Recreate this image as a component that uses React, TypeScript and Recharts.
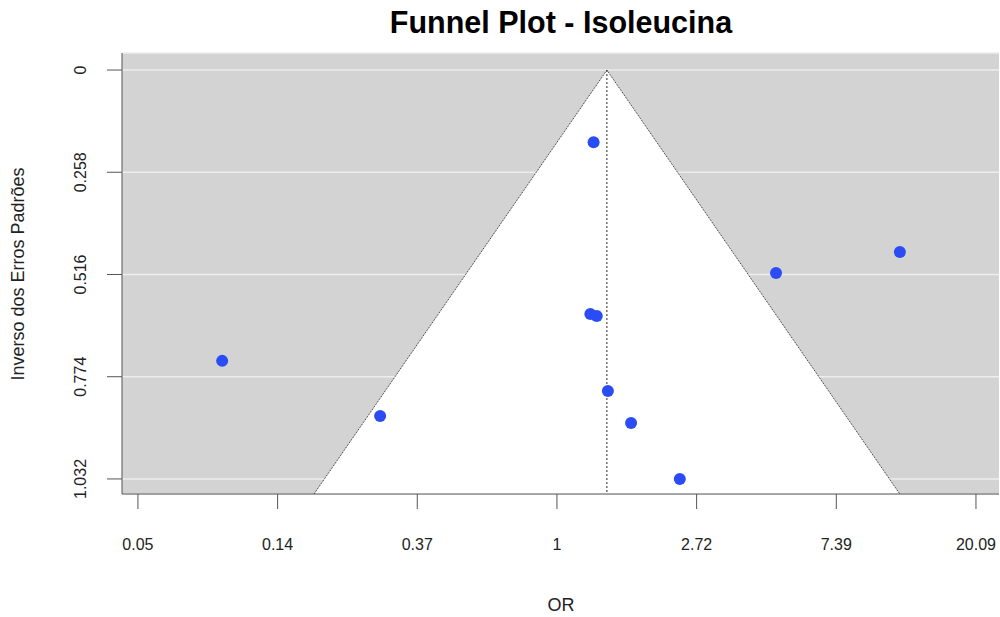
import React from 'react';
import {
  ComposedChart,
  XAxis,
  YAxis,
  CartesianGrid,
  Area,
  Scatter,
  ReferenceLine,
} from 'recharts';

const studyOR = [1.3, 11.65, 4.8, 1.27, 1.33, 0.091, 1.44, 0.282, 1.7, 2.41];
const studySE = [0.182, 0.459, 0.512, 0.616, 0.621, 0.734, 0.81, 0.873, 0.891, 1.032];
const pooledOR = 1.43;

const xTickLogs = [-3, -2, -1, 0, 1, 2, 3];
const xTickLabels = ['0.05', '0.14', '0.37', '1', '2.72', '7.39', '20.09'];
const yTicks = [0, 0.258, 0.516, 0.774, 1.032];

const xDomain = [-3.114, 3.165];
const yDomain = [-0.043, 1.07];

const font = '"Liberation Sans", Arial, sans-serif';

const center = Math.log(pooledOR);
const yMax = yDomain[1];
const leftBase = center - 1.96 * yMax;
const rightBase = center + 1.96 * yMax;

const funnelArea = [
  { x: leftBase, band: [yMax, yMax] },
  { x: center, band: [0, yMax] },
  { x: rightBase, band: [yMax, yMax] },
];

const funnelEdges = [
  { x: leftBase, y: yMax },
  { x: center, y: 0 },
  { x: rightBase, y: yMax },
];

const studies = studyOR.map((or, i) => ({ x: Math.log(or), y: studySE[i] }));

const YTick = ({ x, y, payload }: any) => (
  <text
    x={x}
    y={y}
    transform={`rotate(-90 ${x} ${y})`}
    textAnchor="middle"
    dy="0.35em"
    fontSize={16}
    fontFamily={font}
    fill="#222"
  >
    {String(payload.value)}
  </text>
);

const Dot = ({ cx, cy }: any) => <circle cx={cx} cy={cy} r={6} fill="#2b4cf5" />;
const NoDot = () => <g />;

export default function App() {
  return (
    <div style={{ position: 'absolute', left: 0, top: 0, width: 1000, height: 617 }}>
      <ComposedChart
        width={1000}
        height={617}
        data={funnelArea}
        margin={{ top: 53, right: 1, bottom: 0, left: 0 }}
      >
        <CartesianGrid
          vertical={false}
          fill="#d3d3d3"
          fillOpacity={1}
          stroke="#ededed"
          strokeWidth={1.5}
        />
        <XAxis
          dataKey="x"
          type="number"
          domain={xDomain}
          allowDataOverflow
          ticks={xTickLogs}
          tickFormatter={(v: number) => xTickLabels[xTickLogs.indexOf(v)]}
          height={123}
          tickSize={15}
          tickMargin={30}
          axisLine={{ stroke: '#555' }}
          tickLine={{ stroke: '#555' }}
          tick={{ fontSize: 16, fontFamily: font, fill: '#222' }}
        />
        <YAxis
          type="number"
          domain={yDomain}
          allowDataOverflow
          reversed
          ticks={yTicks}
          width={122}
          tickSize={15}
          tickMargin={27}
          axisLine={{ stroke: '#555' }}
          tickLine={{ stroke: '#555' }}
          tick={<YTick />}
        />
        <Area
          dataKey="band"
          type="linear"
          fill="#ffffff"
          fillOpacity={1}
          stroke="none"
          isAnimationActive={false}
        />
        <Scatter
          data={funnelEdges}
          dataKey="y"
          line={{ stroke: '#222', strokeWidth: 1, strokeDasharray: '1 1' }}
          shape={<NoDot />}
          isAnimationActive={false}
        />
        <ReferenceLine
          segment={[
            { x: center, y: 0 },
            { x: center, y: yMax },
          ]}
          stroke="#222"
          strokeDasharray="2 2"
        />
        <Scatter data={studies} dataKey="y" shape={<Dot />} isAnimationActive={false} />
      </ComposedChart>
      <svg
        width={1000}
        height={617}
        style={{ position: 'absolute', left: 0, top: 0, pointerEvents: 'none' }}
      >
        <text x={561} y={33} textAnchor="middle" fontSize={30.5} fontWeight="bold" fontFamily={font} fill="#000">
          Funnel Plot - Isoleucina
        </text>
        <text x={561} y={611} textAnchor="middle" fontSize={18} fontFamily={font} fill="#222">
          OR
        </text>
        <text
          x={18}
          y={274}
          transform="rotate(-90 18 274)"
          textAnchor="middle"
          dy="0.35em"
          fontSize={18}
          fontFamily={font}
          fill="#222"
        >
          Inverso dos Erros Padrões
        </text>
      </svg>
    </div>
  );
}
